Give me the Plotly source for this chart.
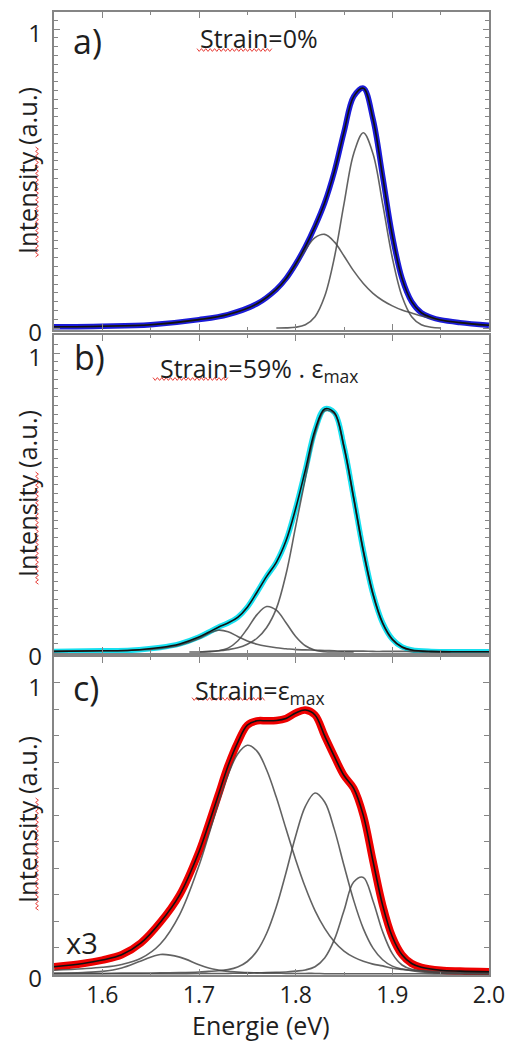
import plotly.graph_objects as go

W, H = 507, 1043

# ---------------- panel a : Strain = 0 % ----------------
energy_a = [1.55, 1.60, 1.65, 1.70, 1.73, 1.76, 1.78, 1.79, 1.80, 1.81, 1.82, 1.83, 1.84,
            1.85, 1.86, 1.87, 1.88, 1.89, 1.90, 1.91, 1.92, 1.93, 1.94, 1.95, 1.97, 2.00]
pl_a = [0.004, 0.006, 0.011, 0.028, 0.045, 0.081, 0.129, 0.165, 0.214, 0.272, 0.340, 0.419, 0.523,
        0.656, 0.774, 0.802, 0.699, 0.507, 0.309, 0.166, 0.088, 0.051, 0.036, 0.027, 0.018, 0.009]
broad_a = [0.004, 0.006, 0.011, 0.028, 0.045, 0.081, 0.129, 0.165, 0.211, 0.261, 0.302, 0.313, 0.288,
           0.241, 0.191, 0.149, 0.116, 0.092, 0.074, 0.060, 0.050, 0.040, 0.033, 0.027, 0.018, 0.009]
energy_a_narrow = [1.78, 1.79, 1.80, 1.81, 1.82, 1.83, 1.84, 1.85, 1.86, 1.87, 1.88, 1.89,
                   1.90, 1.91, 1.92, 1.93, 1.94, 1.95]
narrow_a = [0.0, 0.0003, 0.0025, 0.011, 0.038, 0.106, 0.235, 0.415, 0.583, 0.653, 0.583, 0.415,
            0.235, 0.106, 0.038, 0.011, 0.0025, 0.0]

# ---------------- panel b : Strain = 59 % of eps_max ----------------
energy_b = [1.55, 1.60, 1.63, 1.66, 1.68, 1.70, 1.71, 1.72, 1.73, 1.74, 1.75, 1.76, 1.77, 1.78,
            1.79, 1.80, 1.81, 1.82, 1.83, 1.84, 1.85, 1.86, 1.87, 1.88, 1.89, 1.90, 1.91, 1.92,
            1.94, 1.97, 2.00]
pl_b = [0.002, 0.004, 0.006, 0.015, 0.027, 0.050, 0.066, 0.083, 0.097, 0.116, 0.150, 0.200, 0.253,
        0.300, 0.372, 0.480, 0.608, 0.742, 0.813, 0.801, 0.687, 0.516, 0.339, 0.194, 0.097, 0.043,
        0.017, 0.007, 0.002, 0.001, 0.001]
peak1_b = [0.002, 0.004, 0.006, 0.012, 0.023, 0.045, 0.062, 0.073, 0.068, 0.052, 0.037, 0.026, 0.019,
           0.014, 0.011, 0.008, 0.007, 0.006, 0.005, 0.004, 0.003, 0.003, 0.003, 0.002, 0.002, 0.002,
           0.002, 0.001, 0.001, 0.001, 0.001]
energy_b2 = [1.69, 1.70, 1.71, 1.72, 1.73, 1.74, 1.75, 1.76, 1.77, 1.78, 1.79, 1.80, 1.81, 1.82,
             1.83, 1.84, 1.85, 1.86]
peak2_b = [0.0, 0.0, 0.001, 0.004, 0.013, 0.037, 0.078, 0.125, 0.152, 0.140, 0.098, 0.052, 0.021,
           0.006, 0.001, 0.0, 0.0, 0.0]
energy_b3 = [1.70, 1.71, 1.72, 1.73, 1.74, 1.75, 1.76, 1.77, 1.78, 1.79, 1.80, 1.81, 1.82, 1.83,
             1.84, 1.85, 1.86, 1.87, 1.88, 1.89, 1.90, 1.91, 1.92, 1.93, 1.94, 1.95, 1.96]
peak3_b = [0.0, 0.002, 0.004, 0.008, 0.014, 0.026, 0.046, 0.082, 0.145, 0.260, 0.420, 0.580, 0.730,
           0.807, 0.797, 0.684, 0.513, 0.336, 0.192, 0.095, 0.041, 0.016, 0.005, 0.002, 0.0, 0.0, 0.0]

# ---------------- panel c : Strain = eps_max (x3) ----------------
energy_c = [1.55, 1.58, 1.60, 1.62, 1.64, 1.66, 1.68, 1.70, 1.71, 1.72, 1.73, 1.74, 1.75, 1.76,
            1.77, 1.78, 1.79, 1.80, 1.81, 1.82, 1.83, 1.84, 1.85, 1.86, 1.87, 1.88, 1.89, 1.90,
            1.91, 1.92, 1.93, 1.95, 1.97, 2.00]
pl_c = [0.025, 0.036, 0.048, 0.066, 0.107, 0.178, 0.272, 0.420, 0.515, 0.615, 0.715, 0.795, 0.855,
        0.870, 0.870, 0.871, 0.878, 0.897, 0.907, 0.890, 0.818, 0.748, 0.682, 0.638, 0.545, 0.388,
        0.236, 0.128, 0.066, 0.036, 0.023, 0.013, 0.010, 0.008]
peakA_c = [0.003, 0.005, 0.009, 0.021, 0.045, 0.067, 0.058, 0.032, 0.021, 0.014, 0.009, 0.007, 0.005,
           0.004, 0.003, 0.003, 0.002, 0.002, 0.002, 0.002, 0.001, 0.001, 0.001, 0.001, 0.001, 0.001,
           0.001, 0.001, 0.001, 0.001, 0.001, 0.0, 0.0, 0.0]
peakB_c = [0.013, 0.018, 0.023, 0.033, 0.054, 0.103, 0.204, 0.373, 0.478, 0.586, 0.684, 0.756, 0.786,
           0.766, 0.701, 0.607, 0.499, 0.393, 0.298, 0.218, 0.157, 0.111, 0.079, 0.058, 0.044, 0.034,
           0.028, 0.020, 0.016, 0.013, 0.011, 0.008, 0.006, 0.004]
peakC_c = [0.001, 0.002, 0.002, 0.003, 0.003, 0.004, 0.005, 0.007, 0.009, 0.011, 0.015, 0.024, 0.043,
           0.079, 0.140, 0.231, 0.348, 0.474, 0.576, 0.622, 0.591, 0.497, 0.373, 0.253, 0.156, 0.089,
           0.049, 0.027, 0.017, 0.011, 0.007, 0.004, 0.003, 0.002]
peakD_c = [0.001, 0.001, 0.001, 0.001, 0.001, 0.001, 0.001, 0.002, 0.002, 0.002, 0.002, 0.003, 0.003,
           0.004, 0.005, 0.006, 0.007, 0.010, 0.014, 0.025, 0.055, 0.118, 0.218, 0.316, 0.332, 0.251,
           0.145, 0.070, 0.031, 0.016, 0.011, 0.004, 0.003, 0.002]

x_ticks = [1.6, 1.7, 1.8, 1.9, 2.0]
y_ticks = [0, 1]
panel_letters = ["a)", "b)", "c)"]
strain_labels = ["Strain=0%", "Strain=59% . ε<sub>max</sub>", "Strain=ε<sub>max</sub>"]

FONT = "Open Sans"
FRAME = "#858585"
TEXT = "#1e1e1e"
COMP = "rgba(70,70,70,0.85)"
FIT = "#111111"


def px_x(x):
    return x / W


def px_y(y):
    return 1 - y / H


X_DOM = [px_x(54), px_x(489)]
Y_DOMS = [[px_y(330), px_y(12)], [px_y(653), px_y(335)], [px_y(975), px_y(657)]]
Y_RANGES = [[-0.0067, 1.0569], [-0.0033, 1.0602], [-0.0034, 1.0893]]

fig = go.Figure()


def spectrum(x, y, color, width, row):
    suffix = "" if row == 1 else str(row)
    fig.add_trace(go.Scatter(
        x=x, y=y, mode="lines", line=dict(color=color, width=width, shape="spline", smoothing=1.0),
        xaxis="x" + suffix, yaxis="y" + suffix, showlegend=False, hoverinfo="skip"))


# panel a
spectrum(energy_a, pl_a, "#1a1ad8", 5.5, 1)
spectrum(energy_a, broad_a, COMP, 1.6, 1)
spectrum(energy_a_narrow, narrow_a, COMP, 1.6, 1)
spectrum(energy_a, pl_a, FIT, 1.6, 1)

# panel b
spectrum(energy_b, pl_b, "#18e0f0", 5.5, 2)
spectrum(energy_b, peak1_b, COMP, 1.6, 2)
spectrum(energy_b2, peak2_b, COMP, 1.6, 2)
spectrum(energy_b3, peak3_b, COMP, 1.6, 2)
spectrum(energy_b, pl_b, FIT, 1.6, 2)

# panel c
spectrum(energy_c, pl_c, "#ee0000", 7.5, 3)
for comp in (peakA_c, peakB_c, peakC_c, peakD_c):
    spectrum(energy_c, comp, COMP, 1.6, 3)
spectrum(energy_c, pl_c, FIT, 1.6, 3)

layout = dict(
    template="none",
    width=W, height=H, margin=dict(l=0, r=0, t=0, b=0, pad=0),
    paper_bgcolor="white", plot_bgcolor="white",
    font=dict(family=FONT, color=TEXT),
    showlegend=False,
)

for i in range(3):
    suffix = "" if i == 0 else str(i + 1)
    last = i == 2
    xa = dict(
        domain=X_DOM, range=[1.55, 2.0], anchor="y" + suffix, automargin=False,
        showline=True, linecolor=FRAME, linewidth=2.2, mirror="ticks",
        ticks="inside", ticklen=6, tickwidth=1.4, tickcolor=FRAME,
        tickmode="array", tickvals=x_ticks,
        ticktext=[f"{v:.1f}" for v in x_ticks],
        ticklabelstandoff=-2,
        minor=dict(ticks="inside", ticklen=3, tickwidth=1.4, tickcolor=FRAME,
                   tickmode="array", tickvals=[1.55, 1.65, 1.75, 1.85, 1.95]),
        showgrid=False, zeroline=False, showticklabels=last,
        tickfont=dict(size=23, family=FONT, color=TEXT),
    )
    if i < 2:
        minor_vals = [k / 34 for k in range(1, 36) if k != 34]
        minor_len = 4
    else:
        minor_vals = [k / 11 for k in range(1, 11)]
        minor_len = 5
    ya = dict(
        domain=Y_DOMS[i], range=Y_RANGES[i], anchor="x" + suffix, automargin=False,
        showline=True, linecolor=FRAME, linewidth=2.2, mirror="ticks",
        ticks="inside", ticklen=6, tickwidth=1.4, tickcolor=FRAME,
        tickmode="array", tickvals=y_ticks, ticktext=[str(v) for v in y_ticks],
        ticklabelshift=5, ticklabelstandoff=5,
        minor=dict(ticks="inside", ticklen=minor_len, tickwidth=1.4, tickcolor=FRAME,
                   tickmode="array", tickvals=minor_vals),
        showgrid=False, zeroline=False,
        tickfont=dict(size=24, family=FONT, color=TEXT),
    )
    layout["xaxis" + suffix] = xa
    layout["yaxis" + suffix] = ya

fig.update_layout(**layout)

# panel letters, strain labels, axis titles
letter_pos = [(87, 41), (89, 357), (86, 688)]
strain_pos = [(259, 38), (259, 369), (260, 691)]
ytitle_pos = [171, 494, 820]
for i in range(3):
    lx, ly = letter_pos[i]
    fig.add_annotation(x=px_x(lx), y=px_y(ly), xref="paper", yref="paper",
                       text=panel_letters[i], showarrow=False,
                       font=dict(size=34, family=FONT, color=TEXT),
                       xanchor="center", yanchor="middle")
    sx, sy = strain_pos[i]
    fig.add_annotation(x=px_x(sx), y=px_y(sy), xref="paper", yref="paper",
                       text=strain_labels[i], showarrow=False,
                       font=dict(size=25, family=FONT, color=TEXT),
                       xanchor="center", yanchor="middle")
    fig.add_annotation(x=px_x(27), y=px_y(ytitle_pos[i]), xref="paper", yref="paper",
                       text="Intensity (a.u.)", textangle=-90, showarrow=False,
                       font=dict(size=25.5, family=FONT, color=TEXT),
                       xanchor="center", yanchor="middle")

fig.add_annotation(x=px_x(261), y=0, xref="paper", yref="paper", text="Energie (eV)",
                   showarrow=False, font=dict(size=25, family=FONT, color=TEXT),
                   xanchor="center", yanchor="bottom", borderpad=0)
fig.add_annotation(x=px_x(82), y=px_y(942), xref="paper", yref="paper", text="x3",
                   showarrow=False, font=dict(size=29, family=FONT, color=TEXT),
                   xanchor="center", yanchor="middle")


# red spell-check squiggles under "Strain" and "Intensity"
def squiggle_h(x0, x1, y, amp=1.4, step=2.2):
    pts = []
    x, k = x0, 0
    while x <= x1:
        pts.append((px_x(x), px_y(y + (amp if k % 2 else -amp))))
        x += step
        k += 1
    return "M " + " L ".join(f"{a:.5f},{b:.5f}" for a, b in pts)


def squiggle_v(x, y0, y1, amp=1.4, step=2.2):
    pts = []
    y, k = y0, 0
    while y <= y1:
        pts.append((px_x(x + (amp if k % 2 else -amp)), px_y(y)))
        y += step
        k += 1
    return "M " + " L ".join(f"{a:.5f},{b:.5f}" for a, b in pts)


for x0, x1, y in [(197, 272, 50), (153, 228, 379), (192, 265, 699)]:
    fig.add_shape(type="path", path=squiggle_h(x0, x1, y), xref="paper", yref="paper",
                  line=dict(color="#e8403a", width=1))
for y0, y1 in [(147, 258), (472, 585), (798, 912)]:
    fig.add_shape(type="path", path=squiggle_v(37, y0, y1), xref="paper", yref="paper",
                  line=dict(color="#e8403a", width=1))

fig.write_html("out.html")
